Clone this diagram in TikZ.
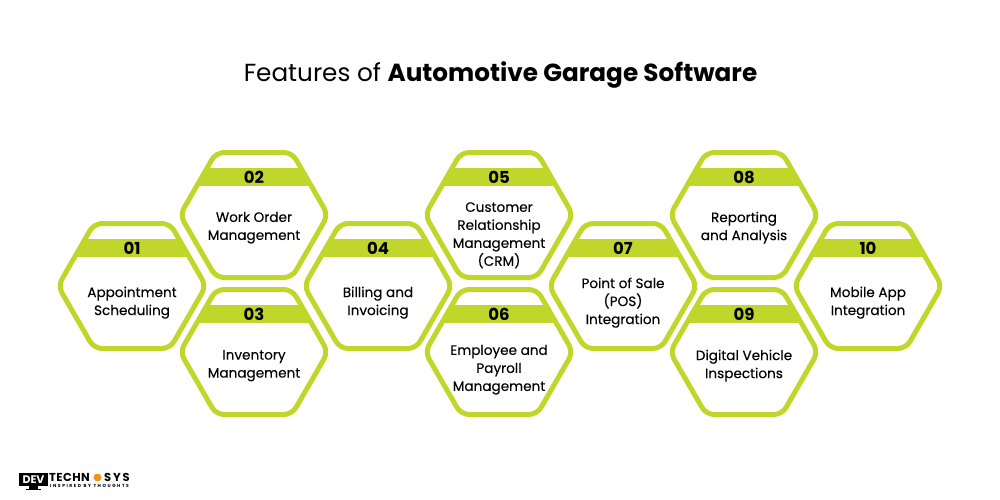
\documentclass[tikz,border=0pt]{standalone}
\usepackage{fontspec}
\setmainfont{Poppins}
\definecolor{lime}{HTML}{C1D62A}
\definecolor{logoorange}{HTML}{F0941E}
\tikzset{
  lab/.style={align=center,text=black,inner sep=0pt,font=\fontsize{13.6}{18}\selectfont\addfontfeature{FakeBold=0.15}},
  num/.style={text=black,inner sep=0pt,font=\fontsize{16.5}{18}\selectfont\bfseries},
  hexline/.style={draw=lime,line width=5pt,line join=round},
}
\newcommand{\hexpath}{(-74,0) -- (-38,-62.5) -- (38,-62.5) -- (74,0) -- (38,62.5) -- (-38,62.5) -- cycle}
\newcommand{\hexcell}[6]{% id, x, y, number, text offset, text
  \begin{scope}[shift={(#2,#3)}]
    \begin{scope}
      \clip[rounded corners=8pt] \hexpath;
      \fill[lime] (-80,-47) rectangle (80,-29);
    \end{scope}
    \draw[hexline,rounded corners=8pt] \hexpath;
    \node[num] (n#1) at (0,-38) {#4};
    \node[lab] (t#1) at (0,#5) {#6};
  \end{scope}
}
\begin{document}
\begin{tikzpicture}[x=1pt,y=-1pt]
\useasboundingbox (0,0) rectangle (1000,500);
\node[inner sep=0pt,font=\fontsize{24.7}{30}\selectfont] (title) at (500.5,75) {Features of \textbf{Automotive Garage Software}};
\hexcell{a}{132}{286}{01}{16.7}{Appointment\\Scheduling}
\hexcell{b}{254}{215}{02}{12.7}{Work Order\\Management}
\hexcell{c}{254}{352}{03}{13.7}{Inventory\\Management}
\hexcell{d}{378}{286}{04}{16.7}{Billing and\\Invoicing}
\hexcell{e}{499}{215}{05}{20.3}{Customer\\Relationship\\Management\\(CRM)}
\hexcell{f}{499}{352}{06}{17.7}{Employee and\\Payroll\\Management}
\hexcell{g}{623}{286}{07}{16.7}{Point of Sale\\(POS)\\Integration}
\hexcell{h}{744}{215}{08}{12.7}{Reporting\\and Analysis}
\hexcell{i}{744}{352}{09}{13.7}{Digital Vehicle\\Inspections}
\hexcell{j}{868}{286}{10}{16.7}{Mobile App\\Integration}
% logo
\fill[black] (19,473) rectangle (48,485.5);
\fill[black] (29,485.5) rectangle (38,488.5);
\fill[black] (26,488.5) rectangle (41,490);
\node[inner sep=0pt,text=white,font=\fontsize{11}{11}\selectfont\bfseries] (logodev) at (33.5,479.5) {DEV};
\node[inner sep=0pt,anchor=west,font=\fontsize{11.5}{12}\selectfont\bfseries\addfontfeature{LetterSpace=4}] (logotech) at (49,477) {TECHN};
\fill[logoorange] (97.5,477.5) circle (4);
\node[inner sep=0pt,anchor=west,font=\fontsize{11.5}{12}\selectfont\bfseries\addfontfeature{LetterSpace=16}] (logosys) at (104,477) {SYS};
\node[inner sep=0pt,anchor=west,font=\fontsize{4.4}{5}\selectfont\bfseries\addfontfeature{LetterSpace=36}] (logotag) at (50,486) {INSPIRED BY THOUGHTS};
\end{tikzpicture}
\end{document}
